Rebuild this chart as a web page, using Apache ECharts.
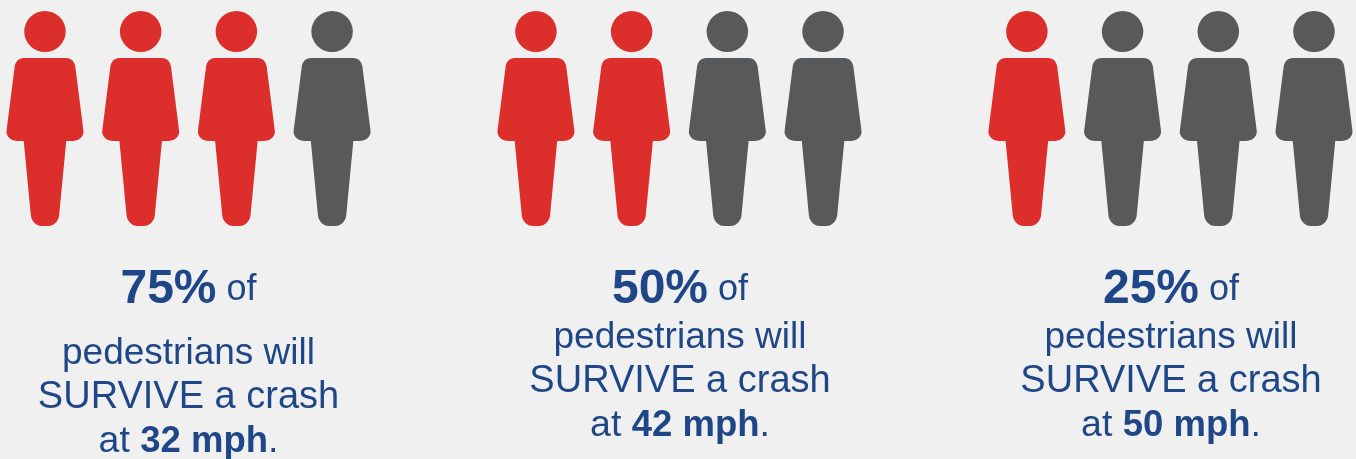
<!DOCTYPE html>
<html>
<head>
<meta charset="utf-8">
<style>html,body{margin:0;padding:0;background:#f0f0f0}#c{width:1356px;height:459px}</style>
<script src="https://cdn.jsdelivr.net/npm/echarts@6/dist/echarts.min.js"></script>
</head>
<body>
<div id="c"></div>
<script>
var survivePercent = [75, 50, 25];
var speedMph = [32, 42, 50];
var peoplePerGroup = 4;
var textLine = 'pedestrians will';
var textLine2 = 'SURVIVE a crash';

var RED = '#dc2f2b', GRAY = '#58595b', BLUE = '#1f4788';
var PERSON = 'path://M45 11A20.5 20.5 0 1 1 44.99 11Z' +
  'M24 58L66 58C71 58 74.5 62 75 67L83 131C83.5 137 78 141 72 141L66 141L59 215C58.5 221 54 226 48 226L42 226C36 226 31.5 221 31 215L24 141L18 141C12 141 6.5 137 7 131L15 67C15.5 62 19 58 24 58Z';

var groupStep = 5.13;
var red = [], gray = [];
survivePercent.forEach(function (p, g) {
  var filled = p / 100 * peoplePerGroup;
  for (var i = 0; i < peoplePerGroup; i++) {
    (i < filled ? red : gray).push([g * groupStep + i, 0.5]);
  }
});

var centers = [188.5, 680, 1171];
var bodyTop = [354, 338, 338];
var family = 'Liberation Sans';
var rich = {
  big: {fontSize: 48, fontWeight: 'bold', fill: BLUE, fontFamily: family},
  of: {fontSize: 36, fill: BLUE, fontFamily: family},
  reg: {fontSize: 37.5, fill: BLUE, fontFamily: family},
  bold: {fontSize: 36.5, fontWeight: 'bold', fill: BLUE, fontFamily: family}
};
var graphics = [];
function line(x, y, t, size) {
  graphics.push({type: 'text', x: x, y: y, style: {text: t, rich: rich, align: 'center', verticalAlign: 'middle', fontFamily: family, fontSize: size || 36, fill: BLUE}});
}
survivePercent.forEach(function (p, g) {
  var x = centers[g], y = bodyTop[g];
  line(x, 290, '{big|' + p + '%} {of|of}');
  line(x, y, textLine, 37);
  line(x, y + 44, textLine2, 38);
  line(x, y + 88, '{reg|at }{bold|' + speedMph[g] + ' mph}{reg|.}');
});

function persons(data, color) {
  return {type: 'scatter', data: data, symbol: PERSON, symbolSize: [77, 215], symbolKeepAspect: false,
    itemStyle: {color: color, opacity: 1}, silent: true, animation: false};
}
var chart = echarts.init(document.getElementById('c'), null, {renderer: 'canvas'});
chart.setOption({
  animation: false,
  backgroundColor: '#f0f0f0',
  grid: {left: 0, right: 0, top: 11, height: 215},
  xAxis: {type: 'value', min: -0.47, max: 13.699, show: false},
  yAxis: {type: 'value', min: 0, max: 1, show: false},
  series: [persons(red, RED), persons(gray, GRAY)],
  graphic: graphics
});
</script>
</body>
</html>
